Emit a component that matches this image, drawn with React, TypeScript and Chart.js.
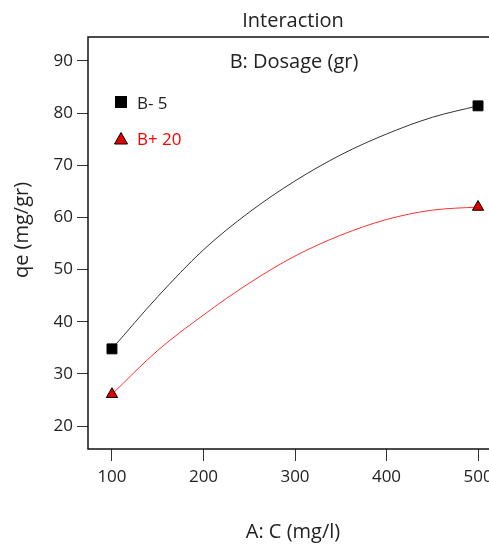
import React, { useEffect, useRef } from "react";
import { Chart, registerables } from "chart.js";

Chart.register(...registerables);

const xValues = [100, 150, 200, 250, 300, 350, 400, 450, 500];
const seriesLow = [34.8, 44.8, 53.8, 61.0, 67.0, 72.0, 76.0, 79.2, 81.4];
const seriesHigh = [26.1, 34.5, 41.3, 47.4, 52.6, 56.6, 59.6, 61.4, 62.0];
const xTicks = [100, 200, 300, 400, 500];
const yTicks = [20, 30, 40, 50, 60, 70, 80, 90];
const labelLow = "B- 5";
const labelHigh = "B+ 20";
const chartTitle = "Interaction";
const legendTitle = "B: Dosage (gr)";
const xTitle = "A: C (mg/l)";
const yTitle = "qe (mg/gr)";

const FONT = "'Open Sans', 'Noto Sans', sans-serif";
const TEXT = "#222222";
const RED = "#ff0000";

export default function App() {
  const ref = useRef<HTMLCanvasElement | null>(null);

  useEffect(() => {
    const canvas = ref.current;
    if (!canvas) return;
    const last = xValues.length - 1;
    const endRadius = (r: number) => (ctx: any) =>
      ctx.dataIndex === 0 || ctx.dataIndex === last ? r : 0;

    const textPlugin = {
      id: "texts",
      afterDraw(chart: any) {
        const { ctx, chartArea } = chart;
        ctx.save();
        ctx.strokeStyle = "#111";
        ctx.lineWidth = 1.5;
        ctx.strokeRect(chartArea.left, chartArea.top, chartArea.right - chartArea.left, chartArea.bottom - chartArea.top);
        const cx = (chartArea.left + chartArea.right) / 2;
        ctx.textBaseline = "middle";
        ctx.textAlign = "center";
        ctx.fillStyle = TEXT;
        ctx.font = `20px ${FONT}`;
        ctx.fillText(chartTitle, cx - 2, 21);
        ctx.fillText(legendTitle, cx - 1, 62);
        ctx.fillText(xTitle, cx - 2, 532);
        ctx.save();
        ctx.translate(22, 230);
        ctx.rotate(-Math.PI / 2);
        ctx.fillText(yTitle, 0, 0);
        ctx.restore();
        // legend
        ctx.textAlign = "left";
        ctx.fillStyle = "#000";
        ctx.fillRect(115, 96, 12, 12);
        ctx.fillStyle = TEXT;
        ctx.font = `17px ${FONT}`;
        ctx.fillText(labelLow, 137, 104);
        ctx.beginPath();
        ctx.moveTo(121, 132.5);
        ctx.lineTo(127.5, 144);
        ctx.lineTo(114.5, 144);
        ctx.closePath();
        ctx.fillStyle = "#e00000";
        ctx.fill();
        ctx.strokeStyle = "#000";
        ctx.lineWidth = 1;
        ctx.stroke();
        ctx.fillStyle = RED;
        ctx.fillText(labelHigh, 137, 140);
        ctx.restore();
      },
    };

    const chart = new Chart(canvas, {
      type: "line",
      data: {
        labels: xValues,
        datasets: [
          {
            label: labelLow,
            data: xValues.map((x, i) => ({ x, y: seriesLow[i] })),
            borderColor: "#333333",
            borderWidth: 1,
            backgroundColor: "#000000",
            pointBackgroundColor: "#000000",
            pointBorderColor: "#000000",
            pointStyle: "rect",
            pointRadius: endRadius(7),
            pointHoverRadius: endRadius(7),
            cubicInterpolationMode: "monotone",
            fill: false,
          },
          {
            label: labelHigh,
            data: xValues.map((x, i) => ({ x, y: seriesHigh[i] })),
            borderColor: "#ff3030",
            borderWidth: 1,
            backgroundColor: "#e00000",
            pointBackgroundColor: "#e00000",
            pointBorderColor: "#000000",
            pointBorderWidth: 1,
            pointStyle: "triangle",
            pointRadius: endRadius(6.5),
            pointHoverRadius: endRadius(6.5),
            cubicInterpolationMode: "monotone",
            fill: false,
          },
        ],
      },
      options: {
        animation: false,
        responsive: false,
        devicePixelRatio: 1,
        layout: { padding: { left: 0, right: 18, top: 37, bottom: 0 } },
        plugins: { legend: { display: false }, title: { display: false }, tooltip: { enabled: false } },
        scales: {
          x: {
            type: "linear",
            min: 73.8,
            max: 526.2,
            afterBuildTicks: (s: any) => {
              s.ticks = xTicks.map((v) => ({ value: v }));
            },
            afterFit: (s: any) => {
              s.height = 95;
            },
            grid: { drawOnChartArea: false, drawTicks: true, tickLength: 12, color: "#333", lineWidth: 1 },
            border: { display: false },
            ticks: { font: { family: FONT, size: 17 }, color: TEXT, padding: 6, maxRotation: 0 },
          },
          y: {
            type: "linear",
            min: 15.6,
            max: 94.6,
            afterBuildTicks: (s: any) => {
              s.ticks = yTicks.map((v) => ({ value: v }));
            },
            afterFit: (s: any) => {
              s.width = 88;
            },
            grid: { drawOnChartArea: false, drawTicks: true, tickLength: 11, color: "#333", lineWidth: 1 },
            border: { display: false },
            ticks: { font: { family: FONT, size: 17 }, color: TEXT, padding: 4 },
          },
        },
      },
      plugins: [textPlugin],
    });
    return () => chart.destroy();
  }, []);

  return (
    <div style={{ position: "fixed", left: 0, top: 0, width: 489, height: 544, overflow: "hidden", background: "#fff" }}>
      <canvas ref={ref} width={520} height={544} style={{ width: 520, height: 544, display: "block" }} />
    </div>
  );
}
